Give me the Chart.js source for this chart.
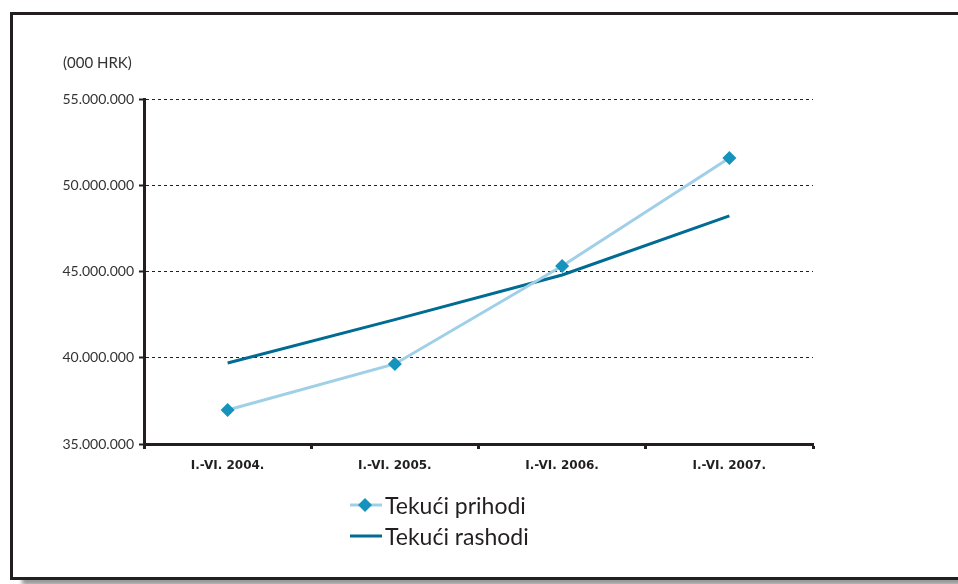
<!DOCTYPE html>
<html>
<head>
<meta charset="utf-8">
<script src="https://cdn.jsdelivr.net/npm/chart.js@4"></script>
<style>
	body { margin: 0; background: #fff; font-family: Lato, "Open Sans", sans-serif; }
	#wrap { position: relative; width: 958px; height: 584px; overflow: hidden; }
	#frame {
		position: absolute; left: 10px; top: 12px; width: 970px; height: 562px;
		border: 3px solid #231f20; box-sizing: content-box;
		box-shadow: 12px 5px 4px #9a9a9a;
	}
	#cvsbox { position: absolute; left: 0; top: 0; width: 958px; height: 584px; }
	#unit { position: absolute; left: 63px; top: 53px; font-size: 15px; color: #333; }
	#legend { position: absolute; left: 350px; top: 489px; }
	.item { display: flex; align-items: center; height: 31px; font-size: 23px; color: #231f20; }
	.item canvas { margin-right: 3px; }
</style>
</head>
<body>
<div id="wrap">
	<div id="frame"></div>
	<div id="cvsbox"><canvas id="chart"></canvas></div>
	<div id="unit">(000 HRK)</div>
	<div id="legend"></div>
</div>
<script>
var periods = ["I.-VI. 2004.", "I.-VI. 2005.", "I.-VI. 2006.", "I.-VI. 2007."];
var prihodi = [36970000, 39640000, 45320000, 51580000];
var rashodi = [39700000, 42210000, 44800000, 48220000];
var yTicks = [35000000, 40000000, 45000000, 50000000, 55000000];

function fmt(v) {
	return v.toString().replace(/\B(?=(\d{3})+(?!\d))/g, ".");
}

var config = {
	type: "line",
	data: {
		labels: periods,
		datasets: [
			{
				label: "Tekući prihodi",
				data: prihodi,
				borderColor: "#9fd0e7",
				backgroundColor: "#1593bd",
				borderWidth: 3,
				pointStyle: "rectRot",
				pointRadius: 7,
				pointBorderWidth: 0,
				pointBackgroundColor: "#1593bd",
				tension: 0
			},
			{
				label: "Tekući rashodi",
				data: rashodi,
				borderColor: "#006b93",
				backgroundColor: "#006b93",
				borderWidth: 3,
				pointRadius: 0,
				tension: 0
			}
		]
	},
	options: {
		responsive: true,
		maintainAspectRatio: false,
		animation: false,
		layout: { padding: { left: 0, top: 99, right: 145, bottom: 100 } },
		plugins: {
			legend: false,
			tooltip: { enabled: false }
		},
		scales: {
			x: {
				offset: true,
				grid: {
					offset: true,
					drawOnChartArea: false,
					tickLength: 5,
					tickWidth: 3,
					tickColor: "#231f20"
				},
				border: { color: "#231f20", width: 3 },
				ticks: {
					padding: 10,
					color: "#231f20",
					font: { family: "DejaVu Sans", size: 12, weight: "bold" },
					maxRotation: 0
				},
				afterFit: function (s) { s.height = 40; }
			},
			y: {
				min: 35000000,
				max: 55000000,
				afterBuildTicks: function (s) {
					s.ticks = yTicks.map(function (v) { return { value: v }; });
				},
				grid: {
					color: "#231f20",
					lineWidth: 1,
					tickLength: 5,
					tickWidth: 2,
					tickBorderDash: [],
					tickColor: "#231f20"
				},
				border: { color: "#231f20", width: 3, dash: [3, 3] },
				ticks: {
					padding: 5,
					color: "#333",
					font: { family: "Lato", size: 14 },
					callback: function (v) { return fmt(v); }
				},
				afterFit: function (s) { s.width = 144; }
			}
		}
	}
};

var chart = new Chart("chart", config);

// legend in two rows, as in the original
var legend = document.getElementById("legend");
chart.data.datasets.forEach(function (ds) {
	var row = document.createElement("div");
	row.className = "item";
	var c = document.createElement("canvas");
	c.width = 32; c.height = 16;
	var g = c.getContext("2d");
	g.strokeStyle = ds.borderColor;
	g.lineWidth = 3;
	g.beginPath(); g.moveTo(0, 8); g.lineTo(32, 8); g.stroke();
	if (ds.pointRadius) {
		g.fillStyle = ds.pointBackgroundColor;
		g.beginPath();
		g.moveTo(15, 1); g.lineTo(22, 8); g.lineTo(15, 15); g.lineTo(8, 8);
		g.closePath(); g.fill();
	}
	row.appendChild(c);
	var t = document.createElement("span");
	t.textContent = ds.label;
	row.appendChild(t);
	legend.appendChild(row);
});
</script>
</body>
</html>
